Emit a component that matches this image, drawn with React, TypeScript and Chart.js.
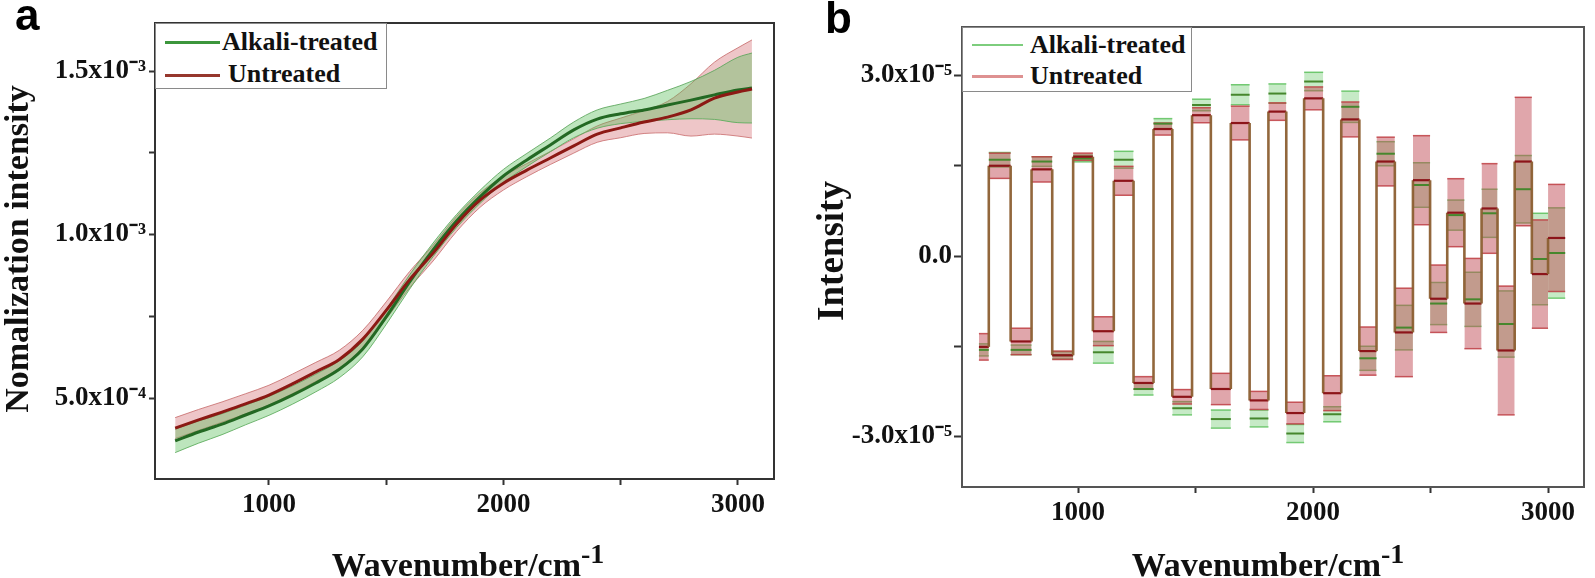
import React, { useEffect, useRef } from 'react';
import { Chart, registerables } from 'chart.js';
Chart.register(...registerables);

const seriesNames = ['Alkali-treated', 'Untreated'];

// ---------- Panel a: normalized spectra (mean ± sd) ----------
const aWavenumber = [600, 700, 800, 900, 1000, 1100, 1200, 1300, 1400, 1500, 1600, 1700, 1800, 1900, 2000, 2100, 2200, 2300, 2400, 2500, 2600, 2700, 2800, 2900, 3000, 3060];
const aAlkaliMean = [0.369e-3, 0.396e-3, 0.420e-3, 0.448e-3, 0.476e-3, 0.509e-3, 0.546e-3, 0.588e-3, 0.650e-3, 0.748e-3, 0.855e-3, 0.953e-3, 1.041e-3, 1.115e-3, 1.179e-3, 1.228e-3, 1.274e-3, 1.320e-3, 1.353e-3, 1.369e-3, 1.381e-3, 1.396e-3, 1.411e-3, 1.427e-3, 1.442e-3, 1.448e-3];
const aAlkaliSd = [0.036e-3, 0.034e-3, 0.032e-3, 0.030e-3, 0.029e-3, 0.028e-3, 0.027e-3, 0.026e-3, 0.024e-3, 0.023e-3, 0.022e-3, 0.021e-3, 0.020e-3, 0.020e-3, 0.020e-3, 0.020e-3, 0.021e-3, 0.024e-3, 0.028e-3, 0.030e-3, 0.035e-3, 0.045e-3, 0.057e-3, 0.075e-3, 0.100e-3, 0.107e-3];
const aUntreatedMean = [0.408e-3, 0.433e-3, 0.457e-3, 0.482e-3, 0.509e-3, 0.543e-3, 0.580e-3, 0.618e-3, 0.680e-3, 0.768e-3, 0.862e-3, 0.943e-3, 1.032e-3, 1.105e-3, 1.157e-3, 1.197e-3, 1.234e-3, 1.271e-3, 1.307e-3, 1.326e-3, 1.344e-3, 1.359e-3, 1.381e-3, 1.417e-3, 1.436e-3, 1.445e-3];
const aUntreatedSd = [0.032e-3, 0.032e-3, 0.031e-3, 0.031e-3, 0.030e-3, 0.030e-3, 0.029e-3, 0.028e-3, 0.027e-3, 0.026e-3, 0.025e-3, 0.024e-3, 0.023e-3, 0.022e-3, 0.021e-3, 0.020e-3, 0.020e-3, 0.022e-3, 0.025e-3, 0.030e-3, 0.035e-3, 0.048e-3, 0.080e-3, 0.110e-3, 0.135e-3, 0.150e-3];

const aXTicks = [1000, 1500, 2000, 2500, 3000];
const aXTickLabels = ['1000', '', '2000', '', '3000'];
const aYTicks = [0.5e-3, 0.75e-3, 1.0e-3, 1.25e-3, 1.5e-3];
const aYTickLabels = ['5.0x10⁻⁴', '', '1.0x10⁻³', '', '1.5x10⁻³'];
const aXRange = [514, 3154];
const aYRange = [0.2523e-3, 1.6468e-3];

// ---------- Panel b: stepped loading intensities (mean ± sd per band) ----------
const bEdges = [578, 620, 713, 802, 890, 979, 1063, 1152, 1236, 1321, 1401, 1485, 1565, 1650, 1730, 1810, 1886, 1962, 2043, 2120, 2197, 2270, 2348, 2425, 2498, 2571, 2644, 2717, 2785, 2858, 2931, 3000, 3073];
const bAlkaliMean = [-1.56e-5, 1.60e-5, -1.56e-5, 1.57e-5, -1.65e-5, 1.62e-5, -1.60e-5, 1.60e-5, -2.21e-5, 2.20e-5, -2.53e-5, 2.51e-5, -2.71e-5, 2.68e-5, -2.70e-5, 2.70e-5, -2.95e-5, 2.90e-5, -2.63e-5, 2.48e-5, -1.70e-5, 1.70e-5, -1.19e-5, 1.18e-5, -0.79e-5, 0.68e-5, -0.72e-5, 0.71e-5, -1.13e-5, 1.11e-5, -0.05e-5, 0.05e-5];
const bAlkaliSd = [0.10e-5, 0.12e-5, 0.08e-5, 0.08e-5, 0.06e-5, 0.055e-5, 0.18e-5, 0.14e-5, 0.10e-5, 0.083e-5, 0.11e-5, 0.096e-5, 0.15e-5, 0.166e-5, 0.14e-5, 0.16e-5, 0.15e-5, 0.153e-5, 0.125e-5, 0.26e-5, 0.20e-5, 0.20e-5, 0.37e-5, 0.37e-5, 0.35e-5, 0.25e-5, 0.45e-5, 0.40e-5, 0.55e-5, 0.56e-5, 0.76e-5, 0.75e-5];
const bUntreatedMean = [-1.51e-5, 1.50e-5, -1.42e-5, 1.44e-5, -1.65e-5, 1.65e-5, -1.25e-5, 1.25e-5, -2.11e-5, 2.11e-5, -2.34e-5, 2.34e-5, -2.21e-5, 2.21e-5, -2.40e-5, 2.40e-5, -2.61e-5, 2.62e-5, -2.28e-5, 2.27e-5, -1.58e-5, 1.57e-5, -1.27e-5, 1.26e-5, -0.71e-5, 0.72e-5, -0.79e-5, 0.79e-5, -1.57e-5, 1.57e-5, -0.30e-5, 0.30e-5];
const bUntreatedSd = [0.22e-5, 0.21e-5, 0.22e-5, 0.21e-5, 0.07e-5, 0.06e-5, 0.24e-5, 0.24e-5, 0.105e-5, 0.10e-5, 0.12e-5, 0.125e-5, 0.26e-5, 0.28e-5, 0.15e-5, 0.145e-5, 0.18e-5, 0.19e-5, 0.29e-5, 0.29e-5, 0.40e-5, 0.405e-5, 0.735e-5, 0.74e-5, 0.56e-5, 0.565e-5, 0.75e-5, 0.745e-5, 1.07e-5, 1.067e-5, 0.90e-5, 0.89e-5];

const bXTicks = [1000, 1500, 2000, 2500, 3000];
const bXTickLabels = ['1000', '', '2000', '', '3000'];
const bYTicks = [-3.0e-5, -1.5e-5, 0, 1.5e-5, 3.0e-5];
const bYTickLabels = ['-3.0x10⁻⁵', '', '0.0', '', '3.0x10⁻⁵'];
const bXRange = [506, 3153];
const bYRange = [-3.839e-5, 3.806e-5];

const SERIF = "'Liberation Serif', 'Times New Roman', Times, serif";
const SANS = "'Liberation Sans', Arial, Helvetica, sans-serif";

const framePlugin = {
  id: 'frame',
  afterDraw(chart: any, _args: any, opts: any) {
    const { ctx, chartArea } = chart;
    ctx.save();
    ctx.strokeStyle = opts.color || '#333';
    ctx.lineWidth = opts.width || 2;
    ctx.strokeRect(chartArea.left, chartArea.top, chartArea.right - chartArea.left, chartArea.bottom - chartArea.top);
    ctx.restore();
  },
};

function scales(cfg: any) {
  const tickFont = { family: SERIF, weight: 'bold' as const, size: 27 };
  return {
    x: {
      type: 'linear' as const,
      min: cfg.xRange[0],
      max: cfg.xRange[1],
      afterBuildTicks: (s: any) => { s.ticks = cfg.xTicks.map((v: number) => ({ value: v })); },
      afterFit: (s: any) => { s.height = cfg.xAxisHeight; },
      ticks: { autoSkip: false, maxRotation: 0, minRotation: 0, padding: cfg.xPad, color: '#111', font: tickFont, callback: (_v: any, i: number) => cfg.xTickLabels[i] },
      grid: { display: true, drawOnChartArea: false, drawTicks: true, tickLength: 6, tickWidth: 2, color: '#333' },
      border: { display: false },
    },
    y: {
      type: 'linear' as const,
      min: cfg.yRange[0],
      max: cfg.yRange[1],
      afterBuildTicks: (s: any) => { s.ticks = cfg.yTicks.map((v: number) => ({ value: v })); },
      afterFit: (s: any) => { s.width = cfg.yAxisWidth; },
      ticks: { autoSkip: false, padding: cfg.yPad, color: '#111', font: tickFont, callback: (_v: any, i: number) => cfg.yTickLabels[i] },
      grid: { display: true, drawOnChartArea: false, drawTicks: true, tickLength: cfg.yTickLen, tickWidth: 2, color: '#333' },
      border: { display: false },
    },
  };
}

const isVertical = (c: any) => c.p0.parsed.x === c.p1.parsed.x;

function stepPoints(edges: number[], values: number[]) {
  const pts: { x: number; y: number }[] = [];
  values.forEach((v, i) => { pts.push({ x: edges[i], y: v }); pts.push({ x: edges[i + 1], y: v }); });
  return pts;
}

function configA(): any {
  const pts = (vals: number[]) => aWavenumber.map((x, i) => ({ x, y: vals[i] }));
  const common = { pointRadius: 0, tension: 0.35, cubicInterpolationMode: 'monotone' };
  return {
    type: 'line',
    data: {
      datasets: [
        { ...common, label: 'u-up', data: pts(aUntreatedMean.map((m, i) => m + aUntreatedSd[i])), borderColor: 'rgba(200,110,110,0.85)', borderWidth: 1, backgroundColor: 'rgba(215,120,125,0.42)', fill: '+1', order: 10 },
        { ...common, label: 'u-lo', data: pts(aUntreatedMean.map((m, i) => m - aUntreatedSd[i])), borderColor: 'rgba(200,110,110,0.85)', borderWidth: 1, fill: false, order: 10 },
        { ...common, label: 'a-up', data: pts(aAlkaliMean.map((m, i) => m + aAlkaliSd[i])), borderColor: 'rgba(90,165,90,0.85)', borderWidth: 1, backgroundColor: 'rgba(90,190,90,0.40)', fill: '+1', order: 9 },
        { ...common, label: 'a-lo', data: pts(aAlkaliMean.map((m, i) => m - aAlkaliSd[i])), borderColor: 'rgba(90,165,90,0.85)', borderWidth: 1, fill: false, order: 9 },
        { ...common, label: seriesNames[0], data: pts(aAlkaliMean), borderColor: 'rgb(35,105,35)', borderWidth: 3, fill: false, order: 2 },
        { ...common, label: seriesNames[1], data: pts(aUntreatedMean), borderColor: 'rgb(140,25,20)', borderWidth: 3, fill: false, order: 1 },
      ],
    },
    options: {
      responsive: false,
      animation: false,
      layout: { padding: { left: 0, top: 23, right: 26, bottom: 0 } },
      plugins: { legend: { display: false }, tooltip: { enabled: false }, frame: { color: '#333', width: 2 } },
      scales: scales({ xRange: aXRange, yRange: aYRange, xTicks: aXTicks, xTickLabels: aXTickLabels, yTicks: aYTicks, yTickLabels: aYTickLabels, xAxisHeight: 99, yAxisWidth: 155, xPad: 4, yPad: 3, yTickLen: 6 }),
    },
    plugins: [framePlugin],
  };
}

function configB(): any {
  const common = { pointRadius: 0, tension: 0 };
  const hideVert = { borderColor: (c: any) => (isVertical(c) ? 'rgba(0,0,0,0)' : undefined) };
  return {
    type: 'line',
    data: {
      datasets: [
        { ...common, label: 'a-up', data: stepPoints(bEdges, bAlkaliMean.map((m, i) => m + bAlkaliSd[i])), borderColor: 'rgba(100,195,100,0.9)', borderWidth: 1.5, backgroundColor: 'rgba(120,205,120,0.42)', fill: '+1', segment: hideVert, order: 10 },
        { ...common, label: 'a-lo', data: stepPoints(bEdges, bAlkaliMean.map((m, i) => m - bAlkaliSd[i])), borderColor: 'rgba(100,195,100,0.9)', borderWidth: 1.5, fill: false, segment: hideVert, order: 10 },
        { ...common, label: 'u-up', data: stepPoints(bEdges, bUntreatedMean.map((m, i) => m + bUntreatedSd[i])), borderColor: 'rgba(190,60,65,0.85)', borderWidth: 1.5, backgroundColor: 'rgba(190,70,80,0.48)', fill: '+1', segment: hideVert, order: 8 },
        { ...common, label: 'u-lo', data: stepPoints(bEdges, bUntreatedMean.map((m, i) => m - bUntreatedSd[i])), borderColor: 'rgba(190,60,65,0.85)', borderWidth: 1.5, fill: false, segment: hideVert, order: 8 },
        { ...common, label: seriesNames[0], data: stepPoints(bEdges, bAlkaliMean), borderColor: 'rgb(70,135,45)', borderWidth: 2, fill: false, segment: hideVert, order: 4 },
        {
          ...common, label: seriesNames[1], data: stepPoints(bEdges, bUntreatedMean), borderColor: 'rgb(140,20,25)', borderWidth: 2.2, fill: false, order: 2,
          segment: {
            borderColor: (c: any) => (isVertical(c) ? 'rgba(140,95,50,0.95)' : undefined),
            borderWidth: (c: any) => (isVertical(c) ? 2.6 : undefined),
          },
        },
      ],
    },
    options: {
      responsive: false,
      animation: false,
      layout: { padding: { left: 0, top: 27, right: 11, bottom: 0 } },
      plugins: { legend: { display: false }, tooltip: { enabled: false }, frame: { color: '#555', width: 2 } },
      scales: scales({ xRange: bXRange, yRange: bYRange, xTicks: bXTicks, xTickLabels: bXTickLabels, yTicks: bYTicks, yTickLabels: bYTickLabels, xAxisHeight: 91, yAxisWidth: 162, xPad: 4, yPad: 2, yTickLen: 8 }),
    },
    plugins: [framePlugin],
  };
}

const abs = (s: React.CSSProperties): React.CSSProperties => ({ position: 'absolute', whiteSpace: 'nowrap', margin: 0, ...s });

function Legend({ box, lineX, lineW, textX, rows, colors, lineH }: any) {
  return (
    <>
      <div style={abs({ left: box[0], top: box[1], width: box[2], height: box[3], border: '1.5px solid #8a8a8a', background: '#fff', boxSizing: 'border-box' })} />
      {seriesNames.map((name, i) => (
        <React.Fragment key={name}>
          <div style={abs({ left: lineX, top: rows[i].line - lineH / 2, width: lineW, height: lineH, background: colors[i] })} />
          <div style={abs({ left: textX[i], top: rows[i].base - 21.8, fontFamily: SERIF, fontWeight: 'bold', fontSize: 26, lineHeight: '26px', color: '#111' })}>{name}</div>
        </React.Fragment>
      ))}
    </>
  );
}

export default function App() {
  const refA = useRef<HTMLCanvasElement>(null);
  const refB = useRef<HTMLCanvasElement>(null);
  useEffect(() => {
    const ca = new Chart(refA.current as HTMLCanvasElement, configA());
    const cb = new Chart(refB.current as HTMLCanvasElement, configB());
    return () => { ca.destroy(); cb.destroy(); };
  }, []);

  const xTitle = (cx: number) => (
    <div style={abs({ left: cx, top: 547.5, transform: 'translateX(-50%)', fontFamily: SERIF, fontWeight: 'bold', fontSize: 34, lineHeight: '34px', color: '#111' })}>
      Wavenumber/cm<span style={{ fontSize: 28, position: 'relative', top: -13 }}>-1</span>
    </div>
  );

  return (
    <div style={{ position: 'fixed', left: 0, top: 0, width: 1595, height: 578, background: '#fff', overflow: 'hidden' }}>
      <canvas ref={refA} width={800} height={578} style={{ position: 'absolute', left: 0, top: 0, width: 800, height: 578 }} />
      <canvas ref={refB} width={795} height={578} style={{ position: 'absolute', left: 800, top: 0, width: 795, height: 578 }} />

      <div style={abs({ left: 15, top: -7.3, fontFamily: SANS, fontWeight: 'bold', fontSize: 44, lineHeight: '44px', color: '#000' })}>a</div>
      <div style={abs({ left: 825, top: -4, fontFamily: SANS, fontWeight: 'bold', fontSize: 44, lineHeight: '44px', color: '#000' })}>b</div>

      <div style={abs({ left: 16.5, top: 249, transform: 'translate(-50%,-50%) rotate(-90deg)', fontFamily: SERIF, fontWeight: 'bold', fontSize: 34, lineHeight: '34px', color: '#111' })}>Nomalization intensity</div>
      <div style={abs({ left: 829.5, top: 251, transform: 'translate(-50%,-50%) rotate(-90deg)', fontFamily: SERIF, fontWeight: 'bold', fontSize: 37, lineHeight: '37px', color: '#111' })}>Intensity</div>

      {xTitle(468)}
      {xTitle(1268)}

      <Legend box={[155, 23, 232, 66]} lineX={165} lineW={55} lineH={3} textX={[222, 228]} rows={[{ line: 42, base: 51 }, { line: 75, base: 82.7 }]} colors={['rgb(60,150,60)', 'rgb(150,55,45)']} />
      <Legend box={[962, 27, 230, 65]} lineX={972} lineW={51} lineH={2.5} textX={[1030, 1030]} rows={[{ line: 45, base: 53.3 }, { line: 76.7, base: 85 }]} colors={['rgb(125,205,125)', 'rgb(222,145,145)']} />
    </div>
  );
}
